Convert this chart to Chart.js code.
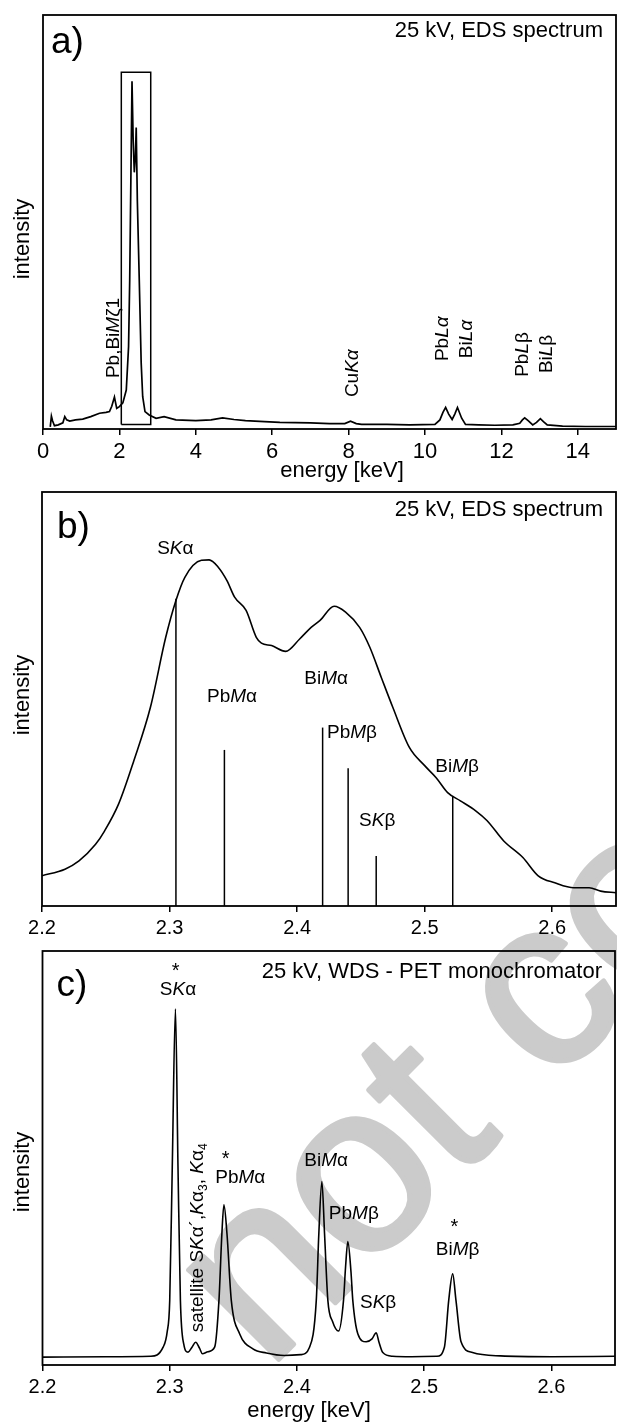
<!DOCTYPE html>
<html>
<head>
<meta charset="utf-8">
<script src="https://cdn.jsdelivr.net/npm/chart.js@4.4.0/dist/chart.umd.min.js"></script>
<style>
  html, body { margin: 0; padding: 0; background: #fff; }
  #wrap { position: relative; width: 617px; height: 1423px; overflow: hidden; }
  canvas { position: absolute; left: 0; top: 0; }
</style>
</head>
<body>
<div id="wrap">
  <canvas id="cc" width="617" height="1423"></canvas>
  <canvas id="cb" width="617" height="1423"></canvas>
  <canvas id="ca" width="617" height="1423"></canvas>
</div>
<script>
// ---------------- DATA ----------------
// Panel a: EDS spectrum, 0-15 keV (intensity in % of axis height)
const energyA = [0.19, 0.22, 0.25, 0.3, 0.4, 0.52, 0.57, 0.62, 0.7, 0.85, 1.04, 1.25, 1.48, 1.65, 1.74, 1.8, 1.87, 1.93, 2.0, 2.09, 2.18, 2.24, 2.27, 2.3, 2.33, 2.36, 2.39, 2.42, 2.44, 2.47, 2.52, 2.57, 2.61, 2.67, 2.78, 2.96, 3.17, 3.48, 4.0, 4.4, 4.7, 5.0, 5.3, 5.8, 6.2, 7.0, 7.5, 7.9, 8.05, 8.2, 8.34, 9.0, 9.6, 10.26, 10.39, 10.47, 10.54, 10.62, 10.71, 10.78, 10.85, 10.96, 11.06, 11.4, 11.83, 12.3, 12.48, 12.55, 12.61, 12.7, 12.82, 12.92, 13.02, 13.1, 13.2, 13.6, 14.2, 15.0];
const intensityA = [0.5, 3.1, 2.0, 0.8, 1.0, 1.5, 3.0, 2.2, 1.9, 2.2, 2.4, 3.0, 3.8, 4.0, 4.2, 5.5, 7.7, 5.0, 5.4, 6.3, 9.4, 19.9, 36, 60, 84, 70, 62, 66, 72.8, 55, 36, 16, 7.8, 4.2, 3.4, 2.6, 3.0, 2.2, 2.0, 2.2, 2.7, 2.3, 2.0, 1.8, 1.6, 1.5, 1.3, 1.3, 1.9, 1.3, 1.1, 1.1, 1.0, 1.1, 2.2, 4.0, 5.2, 3.6, 2.3, 3.6, 5.2, 2.6, 1.1, 1.0, 0.9, 1.0, 1.4, 2.2, 2.7, 2.0, 1.0, 1.6, 2.5, 1.8, 1.0, 0.7, 0.6, 0.6];
const zoomBoxEnergy = [2.05, 2.82];
const zoomBoxIntensity = [1.1, 86.2];
const ticksA = [0, 2, 4, 6, 8, 10, 12, 14];

// Panel b: EDS spectrum, 2.2-2.65 keV, with line positions (sticks)
const energyB = [2.2, 2.218, 2.229, 2.242, 2.249, 2.26, 2.272, 2.285, 2.297, 2.305, 2.312, 2.325, 2.331, 2.338, 2.345, 2.351, 2.36, 2.368, 2.372, 2.38, 2.391, 2.402, 2.411, 2.418, 2.429, 2.438, 2.449, 2.457, 2.466, 2.475, 2.488, 2.5, 2.509, 2.518, 2.528, 2.54, 2.549, 2.562, 2.577, 2.589, 2.602, 2.617, 2.629, 2.638, 2.65];
const intensityB = [7.3, 8.9, 10.9, 14.9, 18.1, 24.6, 35.1, 48, 64.9, 73.8, 79.4, 83.5, 83.6, 81.9, 78.6, 74.6, 71.4, 64.9, 63.5, 62.9, 61.5, 64.5, 67.3, 69, 72.4, 71, 67.3, 62.5, 55.2, 48, 38.3, 33.9, 31, 27.4, 25.4, 23, 20.6, 15.7, 11.7, 7.3, 5.6, 4.4, 4.4, 3.6, 3.2];
const stickEnergy = [2.305, 2.343, 2.42, 2.44, 2.462, 2.522];
const stickHeight = [74.2, 37.7, 43.1, 33.3, 12.1, 26.6];
const ticksBC = [2.2, 2.3, 2.4, 2.5, 2.6];

// Panel c: WDS spectrum (PET), 2.2-2.65 keV
const energyC = [2.2, 2.25, 2.285, 2.2948, 2.298, 2.300, 2.302, 2.3045, 2.3065, 2.3084, 2.311, 2.3144, 2.3175, 2.3204, 2.3235, 2.3257, 2.330, 2.3353, 2.3387, 2.341, 2.3426, 2.345, 2.3484, 2.355, 2.3654, 2.376, 2.39, 2.403, 2.4099, 2.4152, 2.4172, 2.4196, 2.4217, 2.4243, 2.428, 2.4327, 2.4366, 2.4382, 2.44, 2.4425, 2.4439, 2.4479, 2.4544, 2.459, 2.4623, 2.4645, 2.4675, 2.4752, 2.49, 2.51, 2.5159, 2.5193, 2.5224, 2.525, 2.529, 2.538, 2.56, 2.6, 2.65];
const intensityC = [1.9, 2.0, 2.1, 4.3, 8.0, 15.6, 47.8, 86.0, 47.8, 15.6, 5.1, 3.1, 4.3, 5.5, 4.0, 2.7, 3.2, 4.3, 15.6, 31.7, 38.7, 31.7, 15.6, 7.5, 3.9, 2.9, 2.3, 2.5, 4.3, 15.6, 31.7, 44.3, 31.7, 15.6, 10.5, 8.2, 15.6, 23.6, 29.8, 22.4, 15.6, 7.5, 5.6, 6.3, 7.8, 5.5, 3.0, 2.1, 2.0, 2.1, 4.3, 15.6, 22.0, 15.6, 5.6, 3.0, 2.2, 2.0, 2.1];

// ---------------- STYLE / LAYOUT ----------------
const FONT = '"Liberation Sans", Arial, Helvetica, sans-serif';
Chart.defaults.font.family = FONT;
Chart.defaults.color = '#000';

function pts(xs, ys) { return xs.map((x, i) => ({ x: x, y: ys[i] })); }

function drawRich(ctx, segs, x, y, size, align) {
  const fontFor = s => (s === 'i' ? 'italic ' : '') + (s === 'sub' ? Math.round(size * 0.62) : size) + 'px ' + FONT;
  let w = 0;
  for (const [t, s] of segs) { ctx.font = fontFor(s); w += ctx.measureText(t).width; }
  let cx = align === 'center' ? x - w / 2 : (align === 'right' ? x - w : x);
  ctx.textAlign = 'left';
  ctx.textBaseline = 'alphabetic';
  for (const [t, s] of segs) {
    ctx.font = fontFor(s);
    ctx.fillText(t, cx, s === 'sub' ? y + size * 0.22 : y);
    cx += ctx.measureText(t).width;
  }
}

// annotation definitions (anchors in data units)
const notesA = [
  { x: 1.82, y: 12.3, segs: [['Pb,Bi', ''], ['M', 'i'], ['ζ1', '']] },
  { x: 8.08, y: 7.7, segs: [['Cu', ''], ['K', 'i'], ['α', 'i']] },
  { x: 10.43, y: 16.4, segs: [['Pb', ''], ['L', 'i'], ['α', 'i']] },
  { x: 11.06, y: 17.1, segs: [['Bi', ''], ['L', 'i'], ['α', 'i']] },
  { x: 12.51, y: 12.6, segs: [['Pb', ''], ['L', 'i'], ['β', '']] },
  { x: 13.14, y: 13.5, segs: [['Bi', ''], ['L', 'i'], ['β', '']] }
];
const notesB = [
  { x: 2.3045, y: 86.6, segs: [['S', ''], ['K', 'i'], ['α', '']] },
  { x: 2.349, y: 50.9, segs: [['Pb', ''], ['M', 'i'], ['α', '']] },
  { x: 2.4228, y: 55.3, segs: [['Bi', ''], ['M', 'i'], ['α', '']] },
  { x: 2.443, y: 42.2, segs: [['Pb', ''], ['M', 'i'], ['β', '']] },
  { x: 2.4628, y: 20.9, segs: [['S', ''], ['K', 'i'], ['β', '']] },
  { x: 2.5255, y: 34.0, segs: [['Bi', ''], ['M', 'i'], ['β', '']] }
];
const notesC = [
  { x: 2.3047, y: 96.5, star: true },
  { x: 2.3065, y: 91.1, segs: [['S', ''], ['K', 'i'], ['α', '']] },
  { x: 2.344, y: 51.0, star: true },
  { x: 2.3555, y: 45.5, segs: [['Pb', ''], ['M', 'i'], ['α', '']] },
  { x: 2.423, y: 49.6, segs: [['Bi', ''], ['M', 'i'], ['α', '']] },
  { x: 2.4447, y: 36.8, segs: [['Pb', ''], ['M', 'i'], ['β', '']] },
  { x: 2.4638, y: 15.3, segs: [['S', ''], ['K', 'i'], ['β', '']] },
  { x: 2.5237, y: 34.7, star: true },
  { x: 2.5263, y: 28.2, segs: [['Bi', ''], ['M', 'i'], ['β', '']] }
];
const notesCrot = [
  { x: 2.321, y: 7.9, segs: [['satellite S', ''], ['K', 'i'], ['α´,', ''], ['K', 'i'], ['α', ''], ['3', 'sub'], [', ', ''], ['K', 'i'], ['α', ''], ['4', 'sub']] }
];

const LBL = 19;

function makePanelPlugin(cfg) {
  return {
    id: 'panel_' + cfg.letter,
    beforeDraw(chart) {
      if (!cfg.watermark) return;
      const ctx = chart.ctx;
      ctx.save();
      ctx.translate(cfg.watermark.x, cfg.watermark.y);
      ctx.rotate(-Math.PI / 4);
      ctx.font = cfg.watermark.size + 'px ' + FONT;
      ctx.fillStyle = '#cbcbcb';
      ctx.strokeStyle = '#cbcbcb';
      ctx.lineWidth = 5;
      ctx.lineJoin = 'round';
      ctx.textBaseline = 'alphabetic';
      ctx.fillText('not copyedited', 0, 0);
      ctx.strokeText('not copyedited', 0, 0);
      ctx.restore();
    },
    afterDraw(chart) {
      const ctx = chart.ctx;
      const a = chart.chartArea;
      const xs = chart.scales.x, ys = chart.scales.y;
      ctx.save();
      // frame
      ctx.strokeStyle = '#000';
      ctx.lineWidth = 1.8;
      ctx.strokeRect(a.left, a.top, a.right - a.left, a.bottom - a.top);
      ctx.fillStyle = '#000';
      // panel letter
      ctx.font = '37px ' + FONT;
      ctx.textAlign = 'left';
      ctx.textBaseline = 'alphabetic';
      ctx.fillText(cfg.letter, a.left + cfg.letterDx, a.top + cfg.letterDy);
      // header
      ctx.font = '22px ' + FONT;
      ctx.textAlign = 'right';
      ctx.fillText(cfg.header, a.right - 13, a.top + cfg.headerDy);
      // intensity
      ctx.save();
      ctx.translate(23, cfg.intensityY);
      ctx.rotate(-Math.PI / 2);
      ctx.font = '22px ' + FONT;
      ctx.textAlign = 'center';
      ctx.textBaseline = 'middle';
      ctx.fillText('intensity', 0, 0);
      ctx.restore();
      // energy
      if (cfg.energy) {
        ctx.font = '22px ' + FONT;
        ctx.textAlign = 'center';
        ctx.textBaseline = 'alphabetic';
        ctx.fillText('energy [keV]', cfg.energy.x, cfg.energy.y);
      }
      // horizontal notes
      (cfg.notes || []).forEach(n => {
        const px = xs.getPixelForValue(n.x), py = ys.getPixelForValue(n.y);
        if (n.star) {
          ctx.font = '20px ' + FONT;
          ctx.textAlign = 'center';
          ctx.textBaseline = 'alphabetic';
          ctx.fillText('*', px, py + 0.58 * 20);
        } else {
          drawRich(ctx, n.segs, px, py + 0.36 * LBL, LBL, 'center');
        }
      });
      // rotated notes
      (cfg.rotNotes || []).forEach(n => {
        const px = xs.getPixelForValue(n.x), py = ys.getPixelForValue(n.y);
        ctx.save();
        ctx.translate(px, py);
        ctx.rotate(-Math.PI / 2);
        drawRich(ctx, n.segs, 0, 0.36 * LBL, LBL, 'left');
        ctx.restore();
      });
      ctx.restore();
    }
  };
}

function xScale(min, max, ticks, dec, fsize) {
  return {
    type: 'linear', min: min, max: max,
    afterBuildTicks: s => { s.ticks = ticks.map(v => ({ value: v })); },
    afterFit: s => { s.height = 40; },
    ticks: { font: { size: fsize }, color: '#000', padding: 4, maxRotation: 0, autoSkip: false,
             callback: v => dec ? Number(v).toFixed(dec) : String(v) },
    grid: { display: true, drawOnChartArea: false, drawTicks: true, tickLength: 6, color: '#000', lineWidth: 1.5 },
    border: { display: false }
  };
}

function lineDs(data, width, mono) {
  const d = { data: data, showLine: true, borderColor: '#000', borderWidth: width, pointRadius: 0,
              pointHoverRadius: 0, fill: false, tension: 0 };
  if (mono) d.cubicInterpolationMode = 'monotone';
  return d;
}

function baseOptions(padding, xs) {
  return {
    responsive: false, animation: false, devicePixelRatio: 1,
    layout: { padding: padding },
    plugins: { legend: { display: false }, tooltip: { enabled: false } },
    events: [],
    scales: { x: xs, y: { display: false, min: 0, max: 100 } }
  };
}

// ---- Panel a ----
const boxData = [
  { x: zoomBoxEnergy[0], y: zoomBoxIntensity[0] }, { x: zoomBoxEnergy[0], y: zoomBoxIntensity[1] },
  { x: zoomBoxEnergy[1], y: zoomBoxIntensity[1] }, { x: zoomBoxEnergy[1], y: zoomBoxIntensity[0] },
  { x: zoomBoxEnergy[0], y: zoomBoxIntensity[0] }
];
new Chart(document.getElementById('ca'), {
  type: 'scatter',
  data: { datasets: [lineDs(pts(energyA, intensityA), 1.7, false), lineDs(boxData, 1.5, false)] },
  options: baseOptions({ left: 43, right: 1, top: 15, bottom: 1423 - 429 - 40 }, xScale(0, 15, ticksA, 0, 22)),
  plugins: [makePanelPlugin({ letter: 'a)', letterDx: 8, letterDy: 38, header: '25 kV, EDS spectrum', headerDy: 22,
    intensityY: 239, energy: { x: 342, y: 477 }, rotNotes: notesA })]
});

// ---- Panel b ----
const stickSets = stickEnergy.map((e, i) => lineDs([{ x: e, y: 0 }, { x: e, y: stickHeight[i] }], 1.5, false));
new Chart(document.getElementById('cb'), {
  type: 'scatter',
  data: { datasets: [lineDs(pts(energyB, intensityB), 1.6, true)].concat(stickSets) },
  options: baseOptions({ left: 42, right: 1, top: 492, bottom: 1423 - 906 - 40 }, xScale(2.2, 2.65, ticksBC, 1, 20)),
  plugins: [makePanelPlugin({ letter: 'b)', letterDx: 15, letterDy: 46, header: '25 kV, EDS spectrum', headerDy: 24,
    intensityY: 695, notes: notesB })]
});

// ---- Panel c ----
new Chart(document.getElementById('cc'), {
  type: 'scatter',
  data: { datasets: [lineDs(pts(energyC, intensityC), 1.6, true)] },
  options: baseOptions({ left: 42.5, right: 2, top: 951, bottom: 1423 - 1365 - 40 }, xScale(2.2, 2.65, ticksBC, 1, 20)),
  plugins: [makePanelPlugin({ letter: 'c)', letterDx: 14, letterDy: 45, header: '25 kV, WDS - PET monochromator', headerDy: 27,
    intensityY: 1172, energy: { x: 309, y: 1417 }, notes: notesC, rotNotes: notesCrot,
    watermark: { x: 267, y: 1371, size: 240 } })]
});
</script>
</body>
</html>
